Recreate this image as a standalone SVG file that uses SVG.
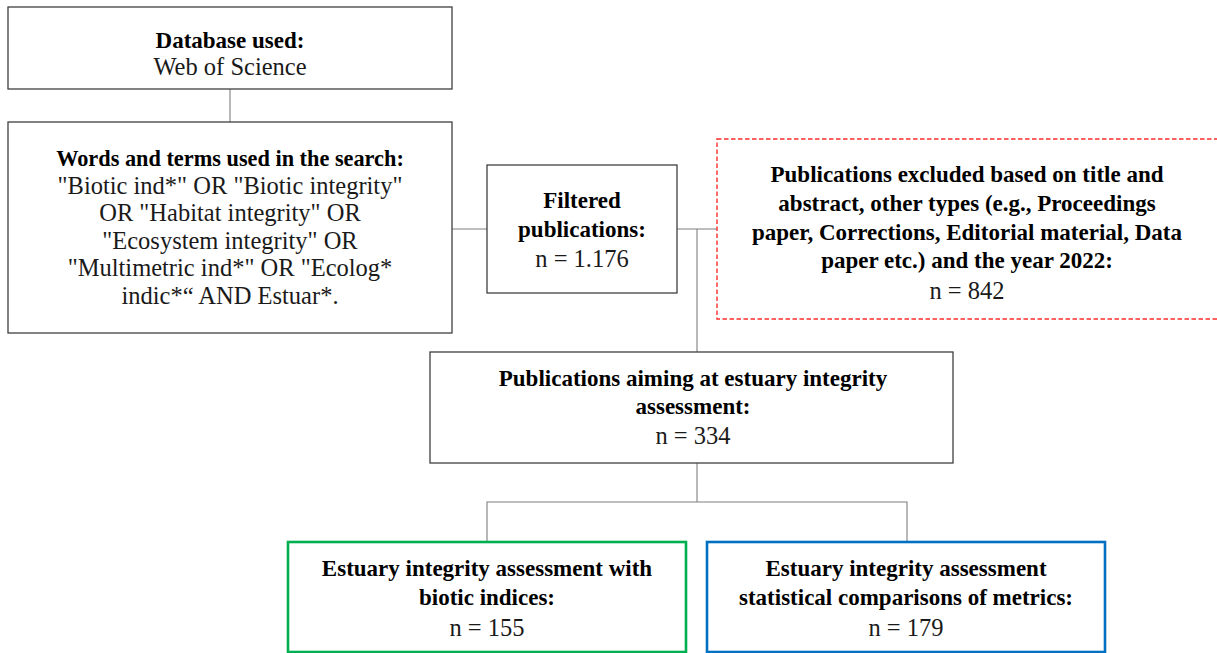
<svg xmlns="http://www.w3.org/2000/svg" width="1217" height="653" viewBox="0 0 1217 653">
<style>
.box{fill:#fff;stroke:#3f3f3f;stroke-width:1.3}
.ex{fill:#fff;stroke:#ff2e2e;stroke-width:1.4;stroke-dasharray:4.5 2.5}
.g{fill:#fff;stroke:#00b050;stroke-width:2.6}
.bl{fill:#fff;stroke:#0070c0;stroke-width:2.6}
.c{fill:none;stroke:#7f7f7f;stroke-width:1.1}
text{font-family:"Liberation Serif","Times New Roman",serif;font-size:24.5px;fill:#1a1a1a;text-anchor:middle}
.b{font-weight:bold;font-size:23px;fill:#000}
.s{font-size:22.3px}
</style>
<rect width="1217" height="653" fill="#fff"/>
<g id="connectors">
<line class="c" x1="230" y1="89" x2="230" y2="122"/>
<line class="c" x1="452" y1="229" x2="487" y2="229"/>
<line class="c" x1="677" y1="229" x2="717" y2="229"/>
<line class="c" x1="697" y1="229" x2="697" y2="352"/>
<line class="c" x1="697" y1="463" x2="697" y2="502"/>
<polyline class="c" points="487,542 487,502 907,502 907,542"/>
</g>
<g id="database">
<rect class="box" x="8" y="7" width="444" height="82"/>
<text class="b" x="230" y="48">Database used:</text>
<text x="230" y="75">Web of Science</text>
</g>
<g id="search">
<rect class="box" x="8" y="122" width="444" height="211"/>
<text class="b s" x="230" y="166">Words and terms used in the search:</text>
<text x="230" y="193.5">"Biotic ind*" OR "Biotic integrity"</text>
<text x="230" y="221">OR "Habitat integrity" OR</text>
<text x="230" y="248.5">"Ecosystem integrity" OR</text>
<text x="230" y="276">"Multimetric ind*" OR "Ecolog*</text>
<text x="230" y="303.5">indic*“ AND Estuar*.</text>
</g>
<g id="filtered">
<rect class="box" x="487" y="165" width="190" height="128"/>
<text class="b" x="582" y="208">Filtered</text>
<text class="b" x="582" y="237">publications:</text>
<text x="582" y="267">n = 1.176</text>
</g>
<g id="excluded">
<rect class="ex" x="717" y="139" width="510" height="180"/>
<text class="b" x="967" y="182">Publications excluded based on title and</text>
<text class="b" x="967" y="211">abstract, other types (e.g., Proceedings</text>
<text class="b" x="967" y="240">paper, Corrections, Editorial material, Data</text>
<text class="b" x="967" y="268">paper etc.) and the year 2022:</text>
<text x="967" y="299">n = 842</text>
</g>
<g id="aiming">
<rect class="box" x="430" y="352" width="523" height="111"/>
<text class="b" x="693" y="386">Publications aiming at estuary integrity</text>
<text class="b" x="693" y="414">assessment:</text>
<text x="693" y="444">n = 334</text>
</g>
<g id="biotic">
<rect class="g" x="288" y="542" width="398" height="110"/>
<text class="b" x="487" y="576">Estuary integrity assessment with</text>
<text class="b" x="487" y="605">biotic indices:</text>
<text x="487" y="636">n = 155</text>
</g>
<g id="statistical">
<rect class="bl" x="707" y="542" width="398" height="110"/>
<text class="b" x="906" y="576">Estuary integrity assessment</text>
<text class="b" x="906" y="605">statistical comparisons of metrics:</text>
<text x="906" y="636">n = 179</text>
</g>
</svg>
